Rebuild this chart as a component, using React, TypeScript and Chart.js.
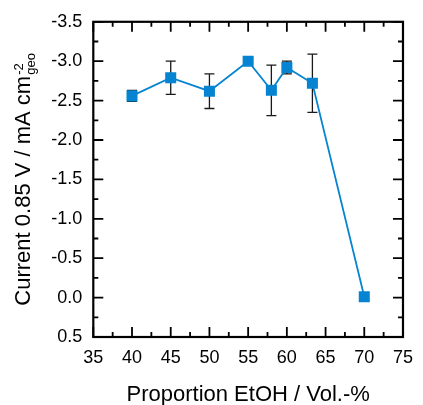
import React, { useEffect, useRef } from 'react';
import { Chart, registerables } from 'chart.js';

Chart.register(...registerables);

// ---- data ----
const proportion = [40, 45, 50, 55, 58, 60, 63.3, 70];
const current = [-2.56, -2.79, -2.62, -3.0, -2.63, -2.92, -2.72, -0.01];
const currentError = [0.07, 0.21, 0.22, 0.03, 0.32, 0.08, 0.37, 0];

const xTicks = [35, 40, 45, 50, 55, 60, 65, 70, 75];
const yTicks = [-3.5, -3.0, -2.5, -2.0, -1.5, -1.0, -0.5, 0.0, 0.5];

const xTitle = 'Proportion EtOH / Vol.-%';
const yTitleMain = 'Current 0.85 V / mA cm';
const yTitleSup = '-2';
const yTitleSub = 'geo';

const FONT = '"Liberation Sans", Arial, sans-serif';
const BLUE = '#0784d1';

const W = 423;
const H = 405;

function midpoints(arr: number[]): number[] {
  const out: number[] = [];
  for (let i = 0; i < arr.length - 1; i++) out.push((arr[i] + arr[i + 1]) / 2);
  return out;
}

const errorBarPlugin = {
  id: 'errorBars',
  beforeDatasetsDraw(chart: any) {
    const { ctx, scales } = chart;
    const x = scales.x;
    const y = scales.y;
    ctx.save();
    ctx.strokeStyle = '#1a1a1a';
    ctx.lineWidth = 1.3;
    proportion.forEach((p, i) => {
      const e = currentError[i];
      if (!e) return;
      const px = x.getPixelForValue(p);
      const t = y.getPixelForValue(current[i] - e);
      const b = y.getPixelForValue(current[i] + e);
      ctx.beginPath();
      ctx.moveTo(px, t);
      ctx.lineTo(px, b);
      ctx.moveTo(px - 5, t);
      ctx.lineTo(px + 5, t);
      ctx.moveTo(px - 5, b);
      ctx.lineTo(px + 5, b);
      ctx.stroke();
    });
    ctx.restore();
  },
};

const framePlugin = {
  id: 'frameTicks',
  afterDraw(chart: any) {
    const { ctx, chartArea, scales } = chart;
    const { left, right, top, bottom } = chartArea;
    const x = scales.x;
    const y = scales.y;
    ctx.save();
    ctx.strokeStyle = '#000';
    ctx.lineWidth = 1.8;
    ctx.beginPath();
    const tick = (vals: number[], len: number) => {
      vals.forEach((v) => {
        const px = x.getPixelForValue(v);
        ctx.moveTo(px, bottom);
        ctx.lineTo(px, bottom - len);
        ctx.moveTo(px, top);
        ctx.lineTo(px, top + len);
      });
    };
    const tickY = (vals: number[], len: number) => {
      vals.forEach((v) => {
        const py = y.getPixelForValue(v);
        ctx.moveTo(left, py);
        ctx.lineTo(left + len, py);
        ctx.moveTo(right, py);
        ctx.lineTo(right - len, py);
      });
    };
    tick(xTicks, 10);
    tick(midpoints(xTicks), 5);
    tickY(yTicks, 10);
    tickY(midpoints(yTicks), 5);
    ctx.stroke();
    ctx.lineWidth = 2.2;
    ctx.strokeRect(left, top, right - left, bottom - top);

    // x title
    ctx.fillStyle = '#000';
    ctx.font = `22px ${FONT}`;
    ctx.textAlign = 'center';
    ctx.textBaseline = 'alphabetic';
    ctx.fillText(xTitle, (left + right) / 2, 400.5);

    // y title with super/subscript
    ctx.font = `22px ${FONT}`;
    const mainW = ctx.measureText(yTitleMain).width;
    ctx.font = `13px ${FONT}`;
    const supW = ctx.measureText(yTitleSup).width;
    const subW = ctx.measureText(yTitleSub).width;
    const total = mainW + 1 + Math.max(supW, subW);
    const cy = (top + bottom) / 2;
    ctx.translate(30, cy + total / 2);
    ctx.rotate(-Math.PI / 2);
    ctx.textAlign = 'left';
    ctx.font = `22px ${FONT}`;
    ctx.fillText(yTitleMain, 0, 0);
    ctx.font = `13px ${FONT}`;
    ctx.fillText(yTitleSup, mainW + 1, -7);
    ctx.fillText(yTitleSub, mainW + 1, 5);
    ctx.restore();
  },
};

export default function App() {
  const ref = useRef<HTMLCanvasElement | null>(null);

  useEffect(() => {
    if (!ref.current) return;
    const chart = new Chart(ref.current, {
      type: 'line',
      data: {
        datasets: [
          {
            data: proportion.map((p, i) => ({ x: p, y: current[i] })),
            borderColor: BLUE,
            backgroundColor: BLUE,
            borderWidth: 1.8,
            pointStyle: 'rect',
            pointRadius: 7.8,
            pointBorderWidth: 0,
            pointBackgroundColor: BLUE,
            tension: 0,
          },
        ],
      },
      options: {
        animation: false,
        responsive: false,
        devicePixelRatio: 1,
        layout: { padding: { left: 0, right: 13.5, top: 20, bottom: 0 } },
        plugins: {
          legend: { display: false },
          tooltip: { enabled: false },
        },
        scales: {
          x: {
            type: 'linear',
            min: 35,
            max: 75,
            grid: { display: false, drawTicks: false },
            border: { display: false },
            afterBuildTicks: (s: any) => {
              s.ticks = xTicks.map((v) => ({ value: v }));
            },
            afterFit: (s: any) => {
              s.height = 68;
            },
            ticks: {
              color: '#000',
              font: { family: FONT, size: 18 },
              padding: 10,
              maxRotation: 0,
              callback: (v: any) => String(v),
            },
          },
          y: {
            type: 'linear',
            reverse: true,
            min: -3.5,
            max: 0.5,
            grid: { display: false, drawTicks: false },
            border: { display: false },
            afterBuildTicks: (s: any) => {
              s.ticks = yTicks.map((v) => ({ value: v }));
            },
            afterFit: (s: any) => {
              s.width = 93.3;
            },
            ticks: {
              color: '#000',
              font: { family: FONT, size: 18 },
              padding: 11,
              callback: (v: any) => Number(v).toFixed(1),
            },
          },
        },
      },
      plugins: [errorBarPlugin, framePlugin],
    } as any);
    return () => chart.destroy();
  }, []);

  return (
    <canvas
      ref={ref}
      width={W}
      height={H}
      style={{ position: 'absolute', left: 0, top: 0, width: W, height: H }}
    />
  );
}
